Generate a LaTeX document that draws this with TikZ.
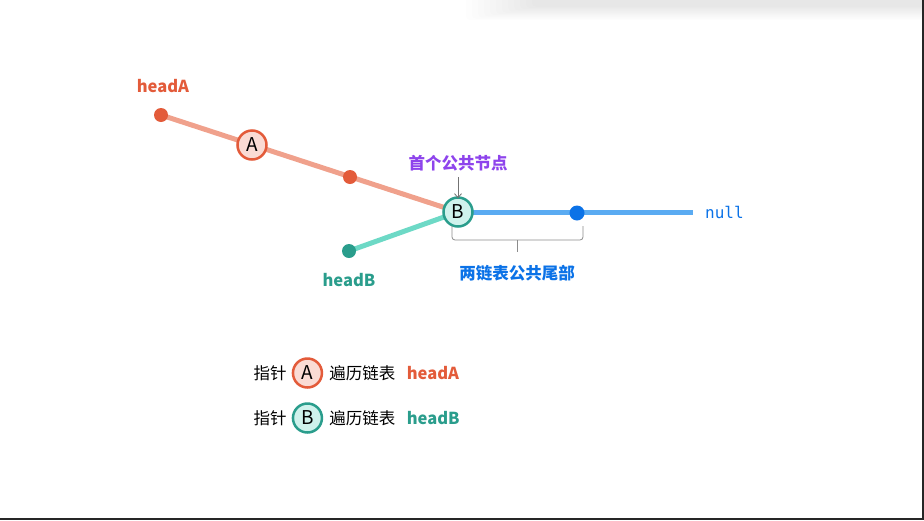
\documentclass[tikz,border=0pt]{standalone}
\usepackage{fontspec}
\setmainfont{Noto Sans CJK SC}
\newfontfamily\codefont{DejaVu Sans Mono}
\usetikzlibrary{arrows.meta,positioning}
\definecolor{ptrA}{HTML}{E35B3A}
\definecolor{lineA}{HTML}{F0A18C}
\definecolor{fillA}{HTML}{FADBD4}
\definecolor{ptrB}{HTML}{2A9D8C}
\definecolor{lineB}{HTML}{6DD9C6}
\definecolor{fillB}{HTML}{CFF2EC}
\definecolor{tailblue}{HTML}{0B72E7}
\definecolor{tailline}{HTML}{5AABF2}
\definecolor{markpurple}{HTML}{8E44EC}
\tikzset{
  txt/.style={inner sep=0pt,font=\fontsize{16.5}{18}\selectfont},
  bold/.style={txt,font=\fontsize{16.5}{18}\selectfont\bfseries},
  dot/.style={circle,fill=#1,inner sep=0pt,minimum size=14pt},
  ptr/.style={circle,draw=#1,line width=2.5pt,inner sep=0pt,minimum size=29pt,
    font=\fontsize{19}{21}\selectfont},
  edge/.style={line width=5pt,#1}
}

\begin{document}
\begin{tikzpicture}[x=1pt,y=-1pt,>=Latex]
  \useasboundingbox (0,0) rectangle (924,520);
  % frame of the screenshot
  \foreach \i in {0,...,11}
    \fill[black,fill opacity=0.006,rounded corners=4pt] (466+\i*6,-5) rectangle (930,20-\i*1.2);
  \draw[line width=2pt,black!85] (0,519) -- (924,519);
  \draw[line width=1.5pt,black!85] (923,0) -- (923,520);

  % positions
  \coordinate (ha) at (161,115);
  \coordinate (pa) at (252,145);
  \coordinate (mid) at (350,177);
  \coordinate (pb) at (458,212);
  \coordinate (hb) at (349,251);
  \coordinate (tail) at (577,213);
  \coordinate (end) at (693,212);

  % the two lists and their shared tail
  \draw[edge=lineA] (ha) -- (pb);
  \draw[edge=lineB] (hb) -- (pb);
  \draw[edge=tailline] (pb) -- (end);

  \node[dot=ptrA] (haDot) at (ha) {};
  \node[dot=ptrA] (midDot) at (mid) {};
  \node[dot=ptrB] (hbDot) at (hb) {};
  \node[dot=tailblue,minimum size=15pt] (tailDot) at (tail) {};
  \node[ptr=ptrA,fill=fillA] (A) at (pa) {A};
  \node[ptr=ptrB,fill=fillB] (B) at (pb) {B};

  \node[bold,text=ptrA] (headA) at (163,86) {headA};
  \node[bold,text=ptrB] (headB) at (349,280) {headB};
  \node[txt,anchor=west,text=tailblue,font=\codefont\fontsize{16}{18}\selectfont] (null) at (705,212) {null};

  % first common node
  \node[bold,text=markpurple] (first) at (458,163) {首个公共节点};
  \draw[->,black!55,line width=0.8pt,>={Straight Barb[length=4pt,width=7pt]}] (first.south) ++(0,6) -- ([yshift=-2pt]B.north);

  % common tail brace
  \draw[black!45,line width=0.8pt,rounded corners=3pt] (452,226) -- (452,240) -- (583,240) -- (583,226);
  \draw[black!45,line width=0.8pt] (517,240) -- (517,252);
  \node[bold,text=tailblue] (tailText) at (517,273) {两链表公共尾部};

  % legend
  \node[txt] (ptrTextA) at (270,373) {指针};
  \node[ptr=ptrA,fill=fillA,right=5pt of ptrTextA] (legA) {A};
  \node[txt,right=6pt of legA] (walkA) {遍历链表};
  \node[bold,text=ptrA,right=11pt of walkA] (legHeadA) {headA};

  \node[txt] (ptrTextB) at (270,418) {指针};
  \node[ptr=ptrB,fill=fillB,right=5pt of ptrTextB] (legB) {B};
  \node[txt,right=6pt of legB] (walkB) {遍历链表};
  \node[bold,text=ptrB,right=11pt of walkB] (legHeadB) {headB};
\end{tikzpicture}
\end{document}
